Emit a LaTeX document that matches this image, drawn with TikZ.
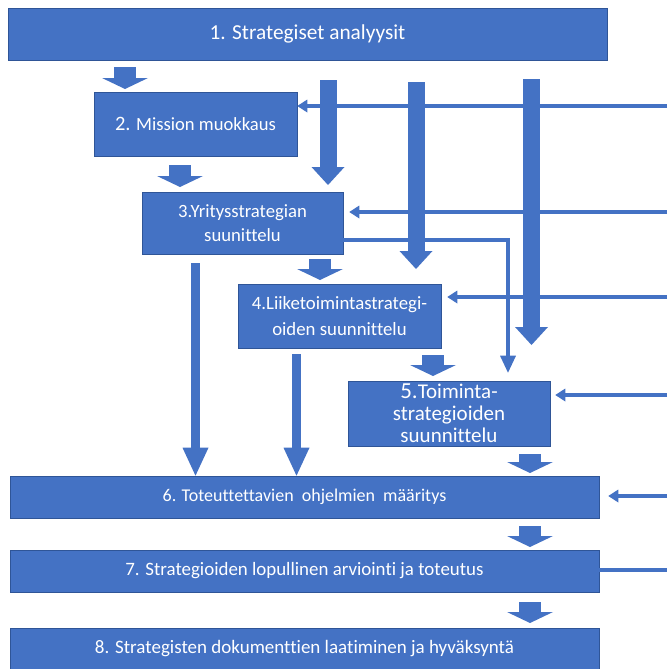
\documentclass[tikz,border=0pt]{standalone}
\usepackage{fontspec}
\setmainfont{Carlito}[Ligatures=NoCommon]
\usetikzlibrary{arrows.meta}
\definecolor{office}{HTML}{4472C4}
\definecolor{officeedge}{HTML}{2F5597}
\begin{document}
\begin{tikzpicture}[x=1pt,y=-1pt,
  box/.style={rectangle, fill=office, draw=officeedge, line width=0.6pt,
    inner sep=0pt, text=white, align=center},
  blk/.style={draw=office, line width=22pt,
    -{Triangle[length=11pt,width=46pt,line width=0pt]}},
  tall/.style={draw=office, line width=17pt,
    -{Triangle[length=18pt,width=33pt,line width=0pt]}},
  mid/.style={draw=office, line width=9pt,
    -{Triangle[length=28pt,width=26pt,line width=0pt]}},
  fb/.style={draw=office, line width=4.5pt,
    -{Triangle[length=10pt,width=13pt,line width=0pt]}},
  fbline/.style={draw=office, line width=4.5pt},
  elbow/.style={draw=office, line width=4.5pt,
    -{Triangle[length=17pt,width=16pt,line width=0pt]}},
]
\useasboundingbox (0,0) rectangle (667,669);

% process boxes
\node[box, minimum width=599pt, minimum height=52pt, font=\fontsize{21.3}{24}\selectfont]
  (b1) at (307.5,34) {1. Strategiset analyysit};
\node[box, minimum width=203pt, minimum height=64pt, font=\fontsize{18.6}{22}\selectfont]
  (b2) at (195.5,124) {{\fontsize{20.5}{22}\selectfont 2.} Mission muokkaus};
\node[box, minimum width=201pt, minimum height=62pt, font=\fontsize{18.7}{24}\selectfont]
  (b3) at (242.5,223) {3.Yritysstrategian\\suunittelu};
\node[box, minimum width=203pt, minimum height=64pt, font=\fontsize{18.8}{26}\selectfont]
  (b4) at (339.5,316) {4.Liiketoimintastrategi-\\oiden suunnittelu};
\node[box, minimum width=202pt, minimum height=65pt, font=\fontsize{21}{22}\selectfont]
  (b5) at (449,413.5) {{\fontsize{23}{22}\selectfont 5.}Toiminta-\\strategioiden\\suunnittelu};
\node[box, minimum width=589pt, minimum height=42pt, font=\fontsize{18}{20}\selectfont]
  (b6) at (304.5,497) {6. Toteuttettavien\ \ ohjelmien\ \ määritys};
\node[box, minimum width=589pt, minimum height=42pt, font=\fontsize{18.9}{20}\selectfont]
  (b7) at (304.5,571) {7. Strategioiden lopullinen arviointi ja toteutus};
\node[box, minimum width=589pt, minimum height=42pt, font=\fontsize{19}{20}\selectfont]
  (b8) at (304.5,649) {8. Strategisten dokumenttien laatiminen ja hyväksyntä};

% free ends and arrow columns
\coordinate (t12) at (125,89);
\coordinate (t23) at (180,187);
\coordinate (t34) at (320,280);
\coordinate (t45) at (433,376);
\coordinate (t56) at (530,473);
\coordinate (t67) at (530,547);
\coordinate (t78) at (530,623);
\coordinate (tA) at (328,185);
\coordinate (tB) at (416,269);
\coordinate (tC) at (531.5,345);
\coordinate (cD) at (195.5,0);
\coordinate (cE) at (296.5,0);
\coordinate (in2) at (667,106);
\coordinate (in3) at (667,212);
\coordinate (in4) at (667,297);
\coordinate (in5) at (667,395);
\coordinate (in6) at (667,496);
\coordinate (out7) at (667,570);
\coordinate (el) at (508,240);

% feedback lines from the right
\draw[fb] (in2) -- (in2 -| b2.east);
\draw[fb] (in3) -- ([xshift=6pt]in3 -| b3.east);
\draw[fb] (in4) -- ([xshift=6pt]in4 -| b4.east);
\draw[fb] (in5) -- ([xshift=5pt]in5 -| b5.east);
\draw[fb] (in6) -- ([xshift=9pt]in6 -| b6.east);
\draw[fbline] (out7 -| b7.east) -- (out7);

% thin elbow from 3 down to 5
\draw[elbow] (el -| b3.east) -- (el) -- ([yshift=8pt]el |- b5.north);

% short block arrows between consecutive steps
\draw[blk] ([yshift=-7pt]b1.south -| t12) -- (t12);
\draw[blk] ([yshift=-9pt]b2.south -| t23) -- (t23);
\draw[blk] ([yshift=-5pt]b3.south -| t34) -- (t34);
\draw[blk] ([yshift=-7pt]b4.south -| t45) -- (t45);
\draw[blk] ([yshift=-8pt]b5.south -| t56) -- (t56);
\draw[blk] ([yshift=-8pt]b6.south -| t67) -- (t67);
\draw[blk] ([yshift=-10pt]b7.south -| t78) -- (t78);

% long arrows from the analyses
\draw[tall] ([yshift=-20pt]b1.south -| tA) -- (tA);
\draw[tall] ([yshift=-22pt]b1.south -| tB) -- (tB);
\draw[tall] ([yshift=-19pt]b1.south -| tC) -- (tC);

% arrows down to step 6
\draw[mid] ([yshift=-9pt]b3.south -| cD) -- (cD |- b6.north);
\draw[mid] ([yshift=-6pt]b4.south -| cE) -- (cE |- b6.north);
\end{tikzpicture}
\end{document}
